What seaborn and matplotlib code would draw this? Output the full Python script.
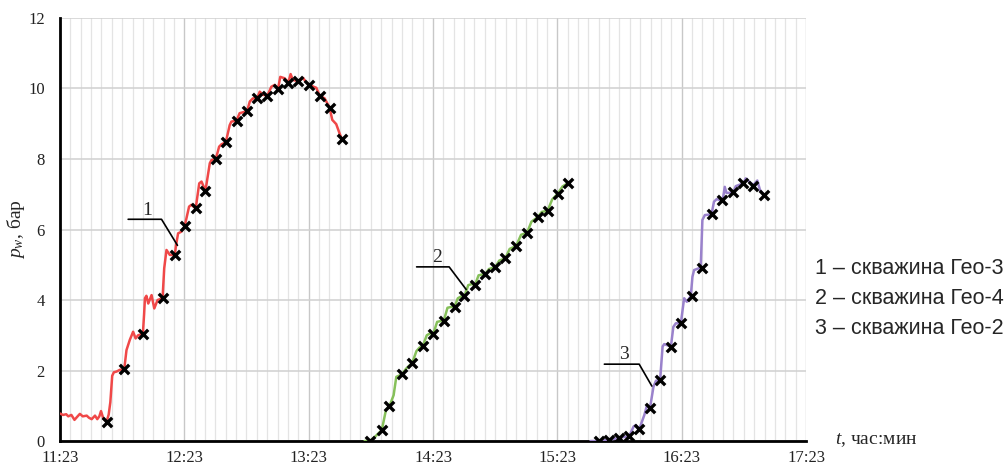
import numpy as np
import pandas as pd
import matplotlib
matplotlib.use('Agg')
import matplotlib.pyplot as plt
from matplotlib.ticker import MultipleLocator, FixedLocator
import seaborn as sns

# time is minutes after 11:23
hour_ticks = [0, 60, 120, 180, 240, 300, 360]
hour_labels = ['11:23', '12:23', '13:23', '14:23', '15:23', '16:23', '17:23']
p_ticks = [0, 2, 4, 6, 8, 10, 12]

# well 1 (Geo-3), recorded curve
t1 = [0, 1.5, 3, 4, 5.5, 7, 8.5, 9.6, 11, 12.9, 14, 15.3, 16.9, 18, 19, 19.8, 20.9, 22.5,
      23.5, 24.3, 25.2, 26, 27.3, 28.9, 31, 32.1, 33.7, 35.3, 36.5, 37.7, 40, 40.6, 41, 41.7,
      42.6, 44.2, 45.5, 47.1, 49.5, 50.3, 51.4, 53, 55.4, 56, 57, 58.6, 60.2, 62.3, 63.4, 65.5,
      67.2, 68.3, 70.2, 72.3, 73.1, 75.2, 76.8, 78, 80, 81.9, 82.7, 85.2, 86.7, 88, 90.3, 91.6,
      93.1, 95.1, 96.4, 98, 100.1, 102, 103.6, 105.2, 106.3, 108.4, 110.2, 111.3, 112.4, 115,
      117.3, 118.9, 120.3, 122.4, 123.7, 125.3, 127.7, 130.1, 131.4, 133.3, 134.9, 136]
p1 = [0.78, 0.74, 0.76, 0.70, 0.74, 0.60, 0.70, 0.77, 0.70, 0.72, 0.66, 0.62, 0.72, 0.62, 0.70,
      0.85, 0.64, 0.55, 0.75, 1.1, 1.85, 1.95, 1.97, 2.02, 2.03, 2.58, 2.87, 3.10, 2.91, 3.0,
      3.04, 3.6, 4.05, 4.12, 3.9, 4.14, 3.76, 4.0, 4.05, 4.9, 5.42, 5.28, 5.28, 5.55, 5.89, 5.94,
      6.1, 6.65, 6.7, 6.6, 7.31, 7.36, 7.1, 7.88, 7.97, 8.0, 8.35, 8.42, 8.47, 8.96, 9.06, 9.09,
      9.3, 9.32, 9.36, 9.63, 9.72, 9.72, 9.91, 9.82, 9.8, 10.05, 10.1, 9.98, 10.33, 10.29, 10.17,
      10.41, 10.24, 10.21, 10.30, 10.17, 10.1, 10.05, 10.02, 9.8, 9.72, 9.46, 9.11, 8.99, 8.73, 8.56]
# well 1 readings
m1_t = [22.5, 31, 40, 49.5, 55.4, 60.2, 65.5, 70.2, 75.2, 80, 85.2, 90.3, 95.1, 100.1, 105.2,
        110.2, 115, 120.3, 125.3, 130.1, 136]
m1_p = [0.55, 2.03, 3.04, 4.05, 5.28, 6.1, 6.6, 7.1, 8.0, 8.47, 9.09, 9.36, 9.72, 9.8, 9.98,
        10.17, 10.21, 10.1, 9.8, 9.46, 8.56]

# well 2 (Geo-4)
t2 = [147, 149.7, 152, 155.3, 157.3, 159, 161, 162.3, 165, 167, 170, 172, 173.5, 175.1, 177,
      178.5, 180.2, 182, 183.5, 185.2, 187, 188.5, 190.4, 192, 193.5, 195.2, 197, 198.5, 200.3,
      202, 203.5, 205.3, 207, 210, 212, 214.9, 217, 220.1, 222.5, 225.4, 227.5, 230.5, 232.5,
      235.3, 237.5, 240.1, 242.5, 245]
p2 = [0.0, 0.01, 0.12, 0.31, 0.88, 0.99, 1.3, 1.82, 1.89, 2.05, 2.22, 2.55, 2.65, 2.7, 3.0,
      3.05, 3.05, 3.38, 3.4, 3.41, 3.78, 3.8, 3.81, 4.05, 4.1, 4.11, 4.42, 4.45, 4.43, 4.7, 4.72,
      4.74, 4.88, 4.93, 5.12, 5.18, 5.45, 5.53, 5.85, 5.91, 6.22, 6.35, 6.5, 6.53, 6.85, 7.01,
      7.22, 7.31]
m2_t = [149.7, 155.3, 159, 165, 170, 175.1, 180.2, 185.2, 190.4, 195.2, 200.3, 205.3, 210,
        214.9, 220.1, 225.4, 230.5, 235.3, 240.1, 245]
m2_p = [0.01, 0.31, 0.99, 1.89, 2.22, 2.7, 3.05, 3.41, 3.81, 4.11, 4.43, 4.74, 4.93, 5.18,
        5.53, 5.91, 6.35, 6.53, 7.01, 7.31]

# well 3 (Geo-2)
t3 = [256, 259.9, 264.7, 269.9, 274.7, 276.8, 277.8, 279.5, 282, 283.3, 284.7, 286.4, 287.6,
      289.6, 290.8, 291.6, 294.8, 296, 297.2, 299.6, 301.2, 302.5, 304.4, 305.2, 306, 309.2,
      310, 311.2, 314.4, 315.6, 316.9, 319.8, 320.8, 321.6, 324.8, 326.1, 329.8, 330.9, 332.5,
      334.6, 336.5, 337.8, 339.7]
p3 = [0.0, 0.0, 0.03, 0.09, 0.14, 0.41, 0.45, 0.33, 0.74, 1.02, 0.93, 1.54, 1.71, 1.73, 2.68,
      2.75, 2.68, 3.24, 3.34, 3.34, 4.05, 3.95, 4.11, 4.66, 4.85, 4.92, 6.27, 6.41, 6.43, 6.79,
      6.86, 6.82, 7.21, 7.04, 7.04, 7.23, 7.31, 7.45, 7.36, 7.26, 7.39, 7.12, 6.98]
m3_t = [259.9, 264.7, 269.9, 274.7, 279.5, 284.7, 289.6, 294.8, 299.9, 304.9, 309.7, 314.5,
        319.7, 324.8, 329.6, 334.5, 339.8]
m3_p = [0.0, 0.03, 0.09, 0.14, 0.33, 0.93, 1.73, 2.68, 3.34, 4.12, 4.92, 6.43, 6.84, 7.06,
        7.31, 7.24, 6.98]

wells = ['1', '2', '3']
legend_lines = ['1 – скважина Гео-3', '2 – скважина Гео-4', '3 – скважина Гео-2']
colors = {'1': '#f04848', '2': '#86c05a', '3': '#9a82cc'}

# leader lines for the curve numbers: (label pos), (horizontal start, bend, end)
lead_lbl = {'1': (42.3, 6.55), '2': (181.8, 5.2), '3': (272.3, 2.45)}
lead_t = {'1': [32.9, 49.0, 56.7], '2': [172.1, 187.8, 196.0], '3': [262.7, 279.5, 285.6]}
lead_p = {'1': [6.29, 6.29, 5.55], '2': [4.94, 4.94, 4.30], '3': [2.18, 2.18, 1.56]}

curves = pd.concat([
    pd.DataFrame({'t': t1, 'p': p1, 'well': '1'}),
    pd.DataFrame({'t': t2, 'p': p2, 'well': '2'}),
    pd.DataFrame({'t': t3, 'p': p3, 'well': '3'}),
])
marks = pd.DataFrame({'t': m1_t + m2_t + m3_t, 'p': m1_p + m2_p + m3_p})

sns.set_theme(style='white')
plt.rcParams['font.family'] = ['Liberation Serif', 'DejaVu Serif']
plt.rcParams['mathtext.fontset'] = 'custom'
plt.rcParams['mathtext.rm'] = 'Liberation Serif'
plt.rcParams['mathtext.it'] = 'Liberation Serif:italic'

fig, ax = plt.subplots(figsize=(10.08, 4.66), dpi=100)
fig.subplots_adjust(left=0.0595, right=0.7996, bottom=0.0536, top=0.9614)

sns.lineplot(data=curves, x='t', y='p', hue='well', palette=colors, units='well',
             estimator=None, sort=False, linewidth=1.8, legend=False, ax=ax, zorder=3)
sns.scatterplot(data=marks, x='t', y='p', marker='x', color='black', s=46,
                linewidth=2.4, legend=False, ax=ax, zorder=4)

for w in wells:
    ax.plot(lead_t[w], lead_p[w], color='black', lw=1.2, zorder=5)
    ax.text(lead_lbl[w][0], lead_lbl[w][1], w, fontsize=14, ha='center', va='center', zorder=5)

ax.set_xlim(0, 360)
ax.set_ylim(0, 12)
ax.xaxis.set_major_locator(FixedLocator(hour_ticks))
ax.set_xticklabels(hour_labels)
ax.xaxis.set_minor_locator(MultipleLocator(5))
ax.set_yticks(p_ticks)

ax.grid(which='major', axis='x', color='#c8c8c8', lw=1.0)
ax.grid(which='minor', axis='x', color='#e4e4e4', lw=0.9)
ax.grid(which='major', axis='y', color='#d0d0d0', lw=1.1)
ax.set_axisbelow(True)

for s in ['top', 'right']:
    ax.spines[s].set_visible(False)
for s in ['left', 'bottom']:
    ax.spines[s].set_color('black')
    ax.spines[s].set_linewidth(2)

ax.tick_params(which='major', direction='out', length=5, width=1.5, color='black',
               labelsize=12, labelcolor='#222222')
ax.tick_params(which='minor', length=0)
ax.tick_params(axis='x', pad=1.5)
ax.tick_params(axis='y', pad=6)

ax.set_xlabel('')
ax.set_ylabel('$p_w$, бар', fontsize=14, labelpad=1)
fig.text(835 / 1008, 1 - 440 / 466, '$t$, час:мин', fontsize=14, ha='left', va='center')

for i, line in enumerate(legend_lines):
    fig.text(815 / 1008, 1 - (268 + 30 * i) / 466, line, fontsize=15.5,
             family=['Liberation Sans', 'DejaVu Sans'], ha='left', va='center')

fig.savefig('out.png', dpi=100)
